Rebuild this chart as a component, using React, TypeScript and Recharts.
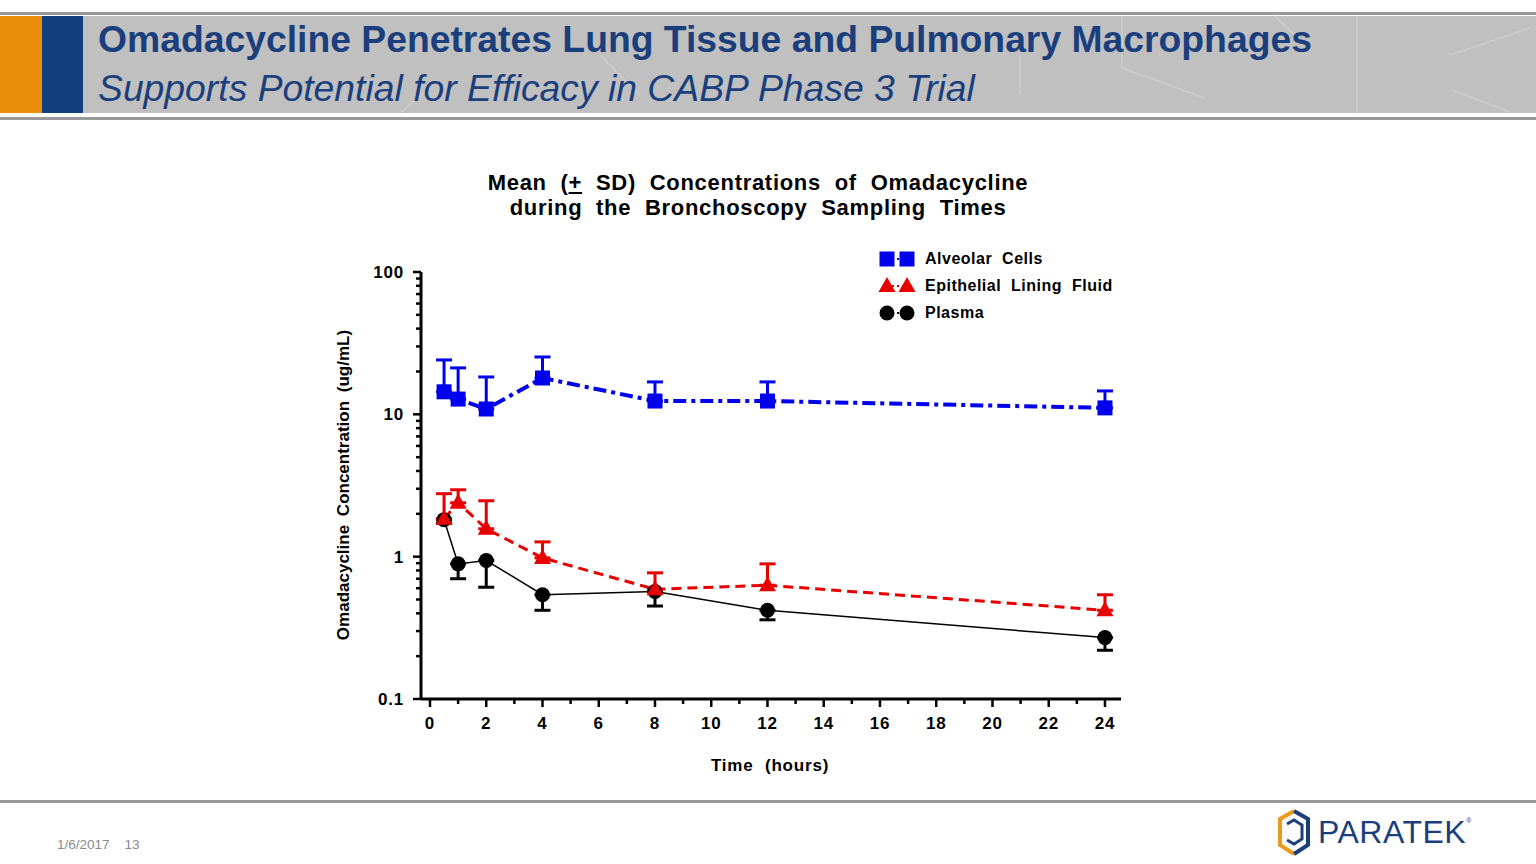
import React from 'react';
import { LineChart, Line, XAxis, YAxis, ErrorBar, Legend } from 'recharts';

// sampling times (hours)
const times = [0.5, 1, 2, 4, 8, 12, 24];

// mean concentrations (ug/mL) and SD
const alveolarCells = [14.4, 12.8, 10.9, 18.0, 12.4, 12.4, 11.1];
const alveolarSd = [9.7, 8.4, 7.4, 7.3, 4.5, 4.5, 3.5];
const elfValues = [1.85, 2.39, 1.57, 0.98, 0.59, 0.63, 0.42];
const elfSd = [0.92, 0.56, 0.9, 0.29, 0.18, 0.26, 0.12];
const plasmaValues = [1.82, 0.89, 0.94, 0.54, 0.57, 0.42, 0.27];
const plasmaSd = [0.1, 0.19, 0.33, 0.12, 0.12, 0.06, 0.05];

const xTicks = [0, 1, 2, 3, 4, 5, 6, 7, 8, 9, 10, 11, 12, 13, 14, 15, 16, 17, 18, 19, 20, 21, 22, 23, 24];
const xLabelled = [0, 2, 4, 6, 8, 10, 12, 14, 16, 18, 20, 22, 24];
const yTicks = [
  0.1, 0.2, 0.3, 0.4, 0.5, 0.6, 0.7, 0.8, 0.9,
  1, 2, 3, 4, 5, 6, 7, 8, 9,
  10, 20, 30, 40, 50, 60, 70, 80, 90, 100,
];
const yLabelled = [0.1, 1, 10, 100];

const BLUE = '#0000ee';
const RED = '#e60000';
const BLACK = '#000000';
const NAVY = '#1b3f7d';
const FONT = '"Liberation Sans", Arial, sans-serif';

const data = times.map((t, i) => ({
  time: t,
  alveolar: alveolarCells[i],
  alveolarErr: [0, alveolarSd[i]],
  elf: elfValues[i],
  elfErr: [0, elfSd[i]],
  plasma: plasmaValues[i],
  plasmaErr: [plasmaSd[i], 0],
}));

const square = (cx: number, cy: number, key?: any) => (
  <rect key={key} x={cx - 7.5} y={cy - 7.5} width={15} height={15} fill={BLUE} />
);
const triangle = (cx: number, cy: number, key?: any) => (
  <path key={key} d={`M${cx},${cy - 9} L${cx + 8.5},${cy + 6} L${cx - 8.5},${cy + 6} Z`} fill={RED} />
);
const circle = (cx: number, cy: number, key?: any) => (
  <circle key={key} cx={cx} cy={cy} r={7.5} fill={BLACK} />
);

const XTick = (props: any) => {
  const { x, y, payload } = props;
  const major = xLabelled.includes(payload.value);
  return (
    <g>
      <line x1={x} y1={y} x2={x} y2={y + (major ? 8 : 5)} stroke="#000" strokeWidth={2.5} />
      {major && (
        <text x={x} y={y + 30} textAnchor="middle" fontFamily={FONT} fontWeight="bold" fontSize={17} letterSpacing={0.8} fill="#000">
          {payload.value}
        </text>
      )}
    </g>
  );
};

const YTick = (props: any) => {
  const { x, y, payload } = props;
  const major = yLabelled.includes(payload.value);
  return (
    <g>
      <line x1={x} y1={y} x2={x - (major ? 8 : 5)} y2={y} stroke="#000" strokeWidth={2.5} />
      {major && (
        <text x={x - 17} y={y + 6} textAnchor="end" fontFamily={FONT} fontWeight="bold" fontSize={17} letterSpacing={0.8} fill="#000">
          {String(payload.value)}
        </text>
      )}
    </g>
  );
};

const legendItems = [
  { name: 'Alveolar Cells', color: BLUE, marker: square },
  { name: 'Epithelial Lining Fluid', color: RED, marker: triangle },
  { name: 'Plasma', color: BLACK, marker: circle },
];

const renderLegend = () => (
  <div style={{ fontFamily: FONT }}>
    {legendItems.map((item) => (
      <div key={item.name} style={{ display: 'flex', alignItems: 'center', height: 27 }}>
        <svg width={40} height={20}>
          <line x1={9} y1={10} x2={29} y2={10} stroke={item.color} strokeWidth={2} strokeDasharray="2 3" />
          {item.marker(9, 10)}
          {item.marker(29, 10)}
        </svg>
        <span style={{ marginLeft: 7, fontSize: 16, fontWeight: 'bold', letterSpacing: 0.5, wordSpacing: 5, color: '#000' }}>
          {item.name}
        </span>
      </div>
    ))}
  </div>
);

function Header() {
  return (
    <div style={{ position: 'absolute', left: 0, top: 0, width: 1536, height: 122 }}>
      <div style={{ position: 'absolute', left: 0, top: 12, width: 1536, height: 3, background: '#999' }} />
      <div style={{ position: 'absolute', left: 0, top: 16, width: 1536, height: 97, background: '#c0c0c0' }} />
      <svg width={1536} height={122} style={{ position: 'absolute', left: 0, top: 0 }}>
        <g stroke="#cdcdcd" strokeWidth={1.5} fill="none">
          <line x1={1122} y1={16} x2={1122} y2={68} />
          <line x1={1122} y1={68} x2={1205} y2={98} />
          <line x1={1020} y1={55} x2={1020} y2={95} />
          <line x1={1357} y1={16} x2={1357} y2={113} />
          <line x1={1450} y1={55} x2={1530} y2={28} />
          <line x1={1452} y1={90} x2={1510} y2={112} />
          <line x1={1275} y1={16} x2={1300} y2={40} />
          <line x1={400} y1={113} x2={430} y2={88} />
          <line x1={600} y1={55} x2={640} y2={95} />
        </g>
      </svg>
      <div style={{ position: 'absolute', left: 0, top: 16, width: 42, height: 97, background: '#ea8d0b' }} />
      <div style={{ position: 'absolute', left: 42, top: 16, width: 41, height: 97, background: '#123f80' }} />
      <div style={{ position: 'absolute', left: 0, top: 117, width: 1536, height: 3, background: '#999' }} />
      <div
        style={{
          position: 'absolute', left: 98, top: 19, fontFamily: FONT, fontWeight: 'bold',
          fontSize: 37.3, color: NAVY, whiteSpace: 'nowrap', lineHeight: '40px',
        }}
      >
        Omadacycline Penetrates Lung Tissue and Pulmonary Macrophages
      </div>
      <div
        style={{
          position: 'absolute', left: 98, top: 68, fontFamily: FONT, fontStyle: 'italic',
          fontSize: 37.3, color: NAVY, whiteSpace: 'nowrap', lineHeight: '40px',
        }}
      >
        Supports Potential for Efficacy in CABP Phase 3 Trial
      </div>
    </div>
  );
}

function Footer() {
  return (
    <>
      <div style={{ position: 'absolute', left: 0, top: 800, width: 1536, height: 3, background: '#999' }} />
      <div
        style={{
          position: 'absolute', left: 57, top: 837, fontFamily: FONT, fontSize: 13.5,
          color: '#8a8a8a', whiteSpace: 'pre',
        }}
      >
        {'1/6/2017    13'}
      </div>
      <svg width={40} height={50} style={{ position: 'absolute', left: 1276, top: 808 }}>
        <path d="M18,3 L4,11 L4,37 L18,46" stroke="#ea9a1c" strokeWidth={4} fill="none" />
        <path d="M18,3 L32,11 L32,37 L18,46" stroke={NAVY} strokeWidth={4} fill="none" />
        <path d="M11,16 L18,12 L26,17 L26,31 L18,36 L11,32" stroke={NAVY} strokeWidth={3} fill="none" />
      </svg>
      <div
        style={{
          position: 'absolute', left: 1318, top: 814, fontFamily: FONT, fontSize: 32,
          color: NAVY, whiteSpace: 'nowrap', lineHeight: '36px', letterSpacing: 0.5,
        }}
      >
        PARATEK<span style={{ fontSize: 7, verticalAlign: 'top', lineHeight: '14px' }}>®</span>
      </div>
    </>
  );
}

export default function App() {
  return (
    <div style={{ position: 'absolute', left: 0, top: 0, width: 1536, height: 864, background: '#fff', overflow: 'hidden' }}>
      <Header />

      <div
        style={{
          position: 'absolute', left: 358, top: 170, width: 800, textAlign: 'center',
          fontFamily: FONT, fontWeight: 'bold', fontSize: 22, lineHeight: '25px',
          letterSpacing: 0.7, wordSpacing: 7, color: '#000',
        }}
      >
        Mean (<span style={{ textDecoration: 'underline' }}>+</span> SD) Concentrations of Omadacycline
        <br />
        during the Bronchoscopy Sampling Times
      </div>

      <div style={{ position: 'absolute', left: 300, top: 230 }}>
        <LineChart width={840} height={570} data={data} margin={{ top: 42, right: 19, bottom: 61, left: 0 }}>
          <XAxis
            dataKey="time"
            type="number"
            domain={[-0.32, 24.57]}
            allowDataOverflow
            ticks={xTicks}
            interval={0}
            tick={<XTick />}
            tickLine={false}
            tickSize={0}
            tickMargin={0}
            height={40}
            axisLine={{ stroke: '#000', strokeWidth: 3 }}
          />
          <YAxis
            type="number"
            scale="log"
            domain={[0.1, 100]}
            allowDataOverflow
            ticks={yTicks}
            interval={0}
            tick={<YTick />}
            tickLine={false}
            tickSize={0}
            tickMargin={0}
            width={121}
            axisLine={{ stroke: '#000', strokeWidth: 3 }}
          />
          <Legend
            layout="horizontal"
            verticalAlign="middle"
            align="center"
            content={renderLegend}
            wrapperStyle={{ left: 578, top: 15, width: 280, height: 90 }}
          />
          <Line
            name="Plasma"
            dataKey="plasma"
            stroke={BLACK}
            strokeWidth={1.5}
            isAnimationActive={false}
            dot={(p: any) => circle(p.cx, p.cy, p.key ?? p.index)}
            activeDot={false}
          >
            <ErrorBar dataKey="plasmaErr" direction="y" width={8} stroke={BLACK} strokeWidth={3} isAnimationActive={false} />
          </Line>
          <Line
            name="Epithelial Lining Fluid"
            dataKey="elf"
            stroke={RED}
            strokeWidth={3}
            strokeDasharray="10 6"
            isAnimationActive={false}
            dot={(p: any) => triangle(p.cx, p.cy, p.key ?? p.index)}
            activeDot={false}
          >
            <ErrorBar dataKey="elfErr" direction="y" width={8} stroke={RED} strokeWidth={3} isAnimationActive={false} />
          </Line>
          <Line
            name="Alveolar Cells"
            dataKey="alveolar"
            stroke={BLUE}
            strokeWidth={4}
            strokeDasharray="13 5 4 5"
            isAnimationActive={false}
            dot={(p: any) => square(p.cx, p.cy, p.key ?? p.index)}
            activeDot={false}
          >
            <ErrorBar dataKey="alveolarErr" direction="y" width={8} stroke={BLUE} strokeWidth={3} isAnimationActive={false} />
          </Line>
        </LineChart>
      </div>

      <div
        style={{
          position: 'absolute', left: 670, top: 756, width: 200, textAlign: 'center',
          fontFamily: FONT, fontWeight: 'bold', fontSize: 17, letterSpacing: 0.8, wordSpacing: 6, color: '#000',
        }}
      >
        Time (hours)
      </div>
      <div style={{ position: 'absolute', left: 344, top: 485, width: 0, height: 0 }}>
        <div
          style={{
            position: 'absolute', left: -200, top: -10, width: 400, textAlign: 'center',
            transform: 'rotate(-90deg)', fontFamily: FONT, fontWeight: 'bold', fontSize: 17,
            lineHeight: '20px', wordSpacing: 4, color: '#000', whiteSpace: 'nowrap',
          }}
        >
          Omadacycline Concentration (ug/mL)
        </div>
      </div>

      <Footer />
    </div>
  );
}
